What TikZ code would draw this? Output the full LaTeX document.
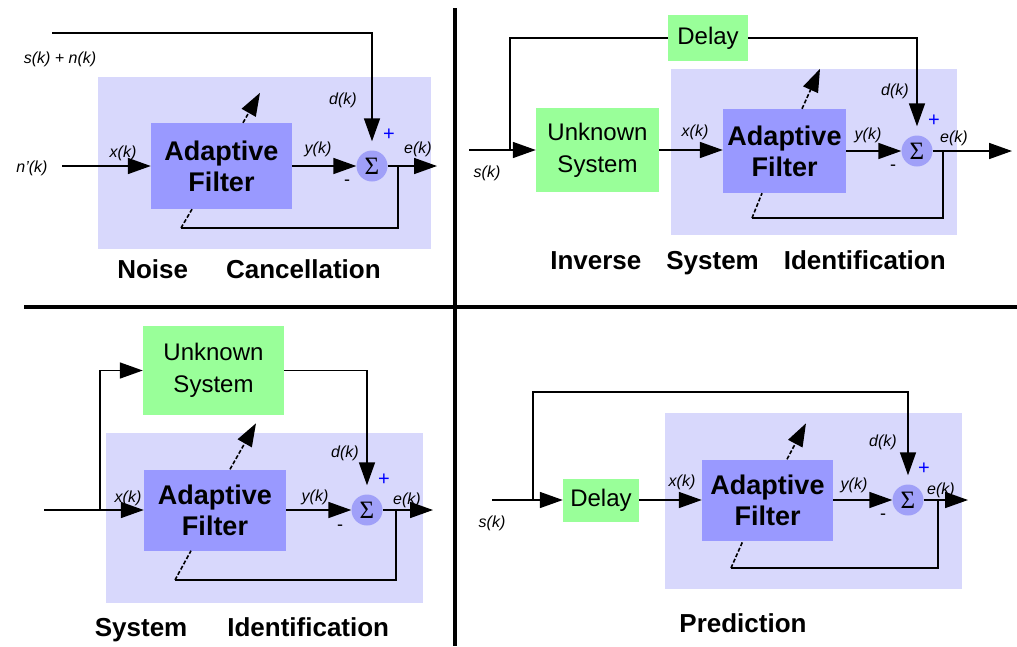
\documentclass[tikz,border=0pt]{standalone}
\usepackage{fontspec}
\setmainfont{Liberation Sans}
\newfontfamily\sumfont{Liberation Serif}
\usetikzlibrary{arrows.meta}
\definecolor{panelblue}{RGB}{216,216,252}
\definecolor{filterblue}{RGB}{153,153,255}
\definecolor{boxgreen}{RGB}{153,255,153}
\definecolor{sumblue}{RGB}{160,160,248}
\tikzset{
  panel/.style={fill=panelblue},
  filterbox/.style={fill=filterblue, inner sep=0pt, align=center, font=\fontsize{27}{31}\selectfont\bfseries},
  greenbox/.style={fill=boxgreen, inner sep=0pt, align=center, font=\fontsize{24}{32}\selectfont},
  sumnode/.style={circle, fill=sumblue, inner sep=0pt, minimum size=31pt, font=\sumfont\fontsize{25}{25}\selectfont},
  siglabel/.style={font=\fontsize{16}{16}\selectfont\itshape, inner sep=0pt},
  possign/.style={font=\fontsize{20}{20}\selectfont, text=blue, inner sep=0pt},
  negsign/.style={font=\fontsize{18}{18}\selectfont, inner sep=0pt},
  caption/.style={font=\fontsize{26}{26}\selectfont\bfseries, inner sep=0pt},
  wire/.style={line width=1.6pt},
  dashwire/.style={wire, dash pattern=on 4pt off 2pt},
  flow/.style={wire, -{Triangle[length=23pt,width=16pt]}},
  adapt/.style={flow, dash pattern=on 4pt off 2pt}
}
\begin{document}
\begin{tikzpicture}[x=1pt, y=-1pt]
\useasboundingbox (0,0) rectangle (1017,646);

% noise cancellation
\fill[panel] (98,77) rectangle (431,249);
\node[filterbox, minimum width=141pt, minimum height=86pt] (af1) at (221.5,166) {Adaptive\\Filter};
\node[sumnode] (s1) at (372,166) {Σ};
\coordinate (in1) at (62,166);
\coordinate (top1) at (52,33);
\coordinate (o1) at (437,166);
\coordinate (fb1) at (398,166);
\coordinate (fc1) at (181,228);
\node[siglabel] (sn1) at (60,59) {s(k) + n(k)};
\node[siglabel] (nl1) at (32,168) {n'(k)};
\node[siglabel] (xl1) at (123,153) {x(k)};
\node[siglabel] (yl1) at (318,149) {y(k)};
\node[siglabel] (dl1) at (343,100) {d(k)};
\node[siglabel] (el1) at (418,149) {e(k)};
\node[possign] (pl1) at (389,135) {+};
\node[negsign] (ml1) at (347,183) {-};
\draw[flow] (in1) -- (af1);
\draw[flow, shorten >=9pt] (top1) -| (s1);
\draw[flow] (af1) -- (s1);
\draw[flow] (s1) -- (o1);
\draw[wire] (fb1) |- (fc1);
\draw[dashwire] (fc1) -- ([xshift=-29.5pt]af1.south);
\draw[adapt] ([xshift=21.5pt]af1.north) -- ++(17,-30);
\node[caption] (cap1) at (249,269) {Noise\hspace{38pt}Cancellation};

% inverse system identification
\fill[panel] (671,69) rectangle (957,235);
\node[greenbox, minimum width=80pt, minimum height=46pt] (delay2) at (708,38) {Delay};
\node[greenbox, minimum width=123pt, minimum height=84pt] (unk2) at (597.5,150) {Unknown\\System};
\node[filterbox, minimum width=123pt, minimum height=84pt] (af2) at (784.5,151) {Adaptive\\Filter};
\node[sumnode] (s2) at (917,151) {Σ};
\coordinate (in2) at (469,150);
\coordinate (j2) at (510,150);
\coordinate (o2) at (1012,151);
\coordinate (fb2) at (943,151);
\coordinate (fc2) at (752,218);
\node[siglabel] (sl2) at (487,173) {s(k)};
\node[siglabel] (xl2) at (695,132) {x(k)};
\node[siglabel] (yl2) at (868,135) {y(k)};
\node[siglabel] (dl2) at (895,91) {d(k)};
\node[siglabel] (el2) at (954,138) {e(k)};
\node[possign] (pl2) at (934,121) {+};
\node[negsign] (ml2) at (893,168) {-};
\draw[flow] (in2) -- (unk2);
\draw[wire] (delay2) -| (j2);
\draw[flow, shorten >=9pt] (delay2) -| (s2);
\draw[flow] (unk2.east) -- (unk2.east -| af2.west);
\draw[flow] (af2) -- (s2);
\draw[flow] (s2) -- (o2);
\draw[wire] (fb2) |- (fc2);
\draw[dashwire] (fc2) -- ([xshift=-22.5pt]af2.south);
\draw[adapt] ([xshift=17.5pt]af2.north) -- ++(18,-40);
\node[caption] (cap2) at (748,263) {Inverse\hspace{25pt}System\hspace{25pt}Identification};

% system identification
\fill[panel] (106,433) rectangle (423,603);
\node[greenbox, minimum width=141pt, minimum height=89pt] (unk3) at (213.5,370.5) {Unknown\\System};
\node[filterbox, minimum width=142pt, minimum height=81pt] (af3) at (215,510) {Adaptive\\Filter};
\node[sumnode] (s3) at (367,510) {Σ};
\coordinate (in3) at (44,510);
\coordinate (j3) at (100,510);
\coordinate (o3) at (433,510);
\coordinate (fb3) at (396,510);
\coordinate (fc3) at (175,580);
\node[siglabel] (xl3) at (128,498) {x(k)};
\node[siglabel] (yl3) at (315,497) {y(k)};
\node[siglabel] (dl3) at (345,453) {d(k)};
\node[siglabel] (el3) at (407,500) {e(k)};
\node[possign] (pl3) at (384,480) {+};
\node[negsign] (ml3) at (340,528) {-};
\draw[flow] (in3) -- (af3);
\draw[flow] (j3) |- (unk3);
\draw[flow, shorten >=9pt] (unk3) -| (s3);
\draw[flow] (af3) -- (s3);
\draw[flow] (s3) -- (o3);
\draw[wire] (fb3) |- (fc3);
\draw[dashwire] (fc3) -- ([xshift=-24pt]af3.south);
\draw[adapt] ([xshift=15pt]af3.north) -- ++(26,-46);
\node[caption] (cap3) at (242,630) {System\hspace{40pt}Identification};

% prediction
\fill[panel] (665,413) rectangle (962,589);
\node[greenbox, minimum width=76pt, minimum height=43pt] (delay4) at (601,500) {Delay};
\node[filterbox, minimum width=131pt, minimum height=81pt] (af4) at (767.5,500) {Adaptive\\Filter};
\node[sumnode] (s4) at (908,500) {Σ};
\coordinate (in4) at (492,500);
\coordinate (j4) at (533,500);
\coordinate (t4) at (533,392);
\coordinate (o4) at (968,500);
\coordinate (fb4) at (938,500);
\coordinate (fc4) at (731,568);
\node[siglabel] (sl4) at (492,523) {s(k)};
\node[siglabel] (xl4) at (682,482) {x(k)};
\node[siglabel] (yl4) at (854,485) {y(k)};
\node[siglabel] (dl4) at (883,442) {d(k)};
\node[siglabel] (el4) at (941,490) {e(k)};
\node[possign] (pl4) at (924,469) {+};
\node[negsign] (ml4) at (883,517) {-};
\draw[flow] (in4) -- (delay4);
\draw[flow, shorten >=9pt] (j4) -- (t4) -| (s4);
\draw[flow] (delay4) -- (af4);
\draw[flow] (af4) -- (s4);
\draw[flow] (s4) -- (o4);
\draw[wire] (fb4) |- (fc4);
\draw[dashwire] (fc4) -- ([xshift=-24.5pt]af4.south);
\draw[adapt] ([xshift=19.5pt]af4.north) -- ++(19,-36);
\node[caption] (cap4) at (743,623) {Prediction};

% separators
\draw[line width=4.5pt] (455,8) -- (455,646);
\draw[line width=4.5pt] (24,307) -- (1017,307);
\end{tikzpicture}
\end{document}
